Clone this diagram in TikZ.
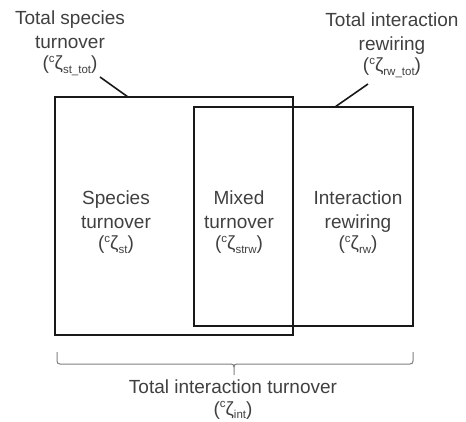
\documentclass[tikz,border=0pt]{standalone}
\usepackage{fontspec}
\setmainfont{Liberation Sans}
\newcommand{\zsub}[1]{\raisebox{-0.35ex}{\fontsize{11.5}{11.5}\selectfont #1}}
\newcommand{\zsup}{\raisebox{0.75ex}{\fontsize{11.5}{11.5}\selectfont c}}
\newcommand{\cz}[1]{(\zsup ζ\zsub{#1})}
\definecolor{txt}{gray}{0.25}
\tikzset{
  lbl/.style={align=center, text=txt, font=\fontsize{19}{24.5}\selectfont, inner sep=0pt},
  boxline/.style={draw=black!90, line width=2pt},
  leader/.style={draw=black!90, line width=1.6pt},
  bracestyle/.style={draw=black!50, line width=1pt}
}
\begin{document}
\begin{tikzpicture}[x=1pt, y=-1pt]
\useasboundingbox (0,0) rectangle (466,422);
% boxes
\coordinate (L1) at (55,97);
\coordinate (L2) at (293,335);
\coordinate (R1) at (194,107);
\coordinate (R2) at (413,326);
\draw[boxline] (L1) rectangle (L2);
\draw[boxline] (R1) rectangle (R2);
% labels
\node[lbl, anchor=base] (tst) at (70,70) {Total species\\turnover\\[-3.5pt]\cz{st\_tot}};
\node[lbl, anchor=base] (tir) at (392,72) {Total interaction\\rewiring\\[-3.5pt]\cz{rw\_tot}};
\node[lbl, anchor=base] (st) at (116,250) {Species\\turnover\\[-3.5pt]\cz{st}};
\node[lbl, anchor=base] (mx) at (239,250) {Mixed\\turnover\\[-3.5pt]\cz{strw}};
\node[lbl, anchor=base] (rw) at (358,250) {Interaction\\rewiring\\[-3.5pt]\cz{rw}};
\node[lbl, anchor=base] (tot) at (233,415) {Total interaction turnover\\[-3pt]\cz{int}};
% leaders
\coordinate (lt) at (100,77);
\coordinate (lb) at (128,97);
\coordinate (rt) at (368,84);
\coordinate (rb) at (335,107);
\draw[leader] (lt) -- (lb);
\draw[leader] (rt) -- (rb);
% brace
\coordinate (bl) at (57,352);
\coordinate (br) at (413,352);
\coordinate (bt) at (234,375);
\draw[bracestyle] (bl) -- (57,361) .. controls (57,363) and (58,364) .. (60,364)
  -- (231,364) .. controls (233,364) and (234,365) .. (234,367) -- (bt);
\draw[bracestyle] (br) -- (413,361) .. controls (413,363) and (412,364) .. (410,364)
  -- (237,364) .. controls (235,364) and (234,365) .. (234,367);
\end{tikzpicture}
\end{document}
